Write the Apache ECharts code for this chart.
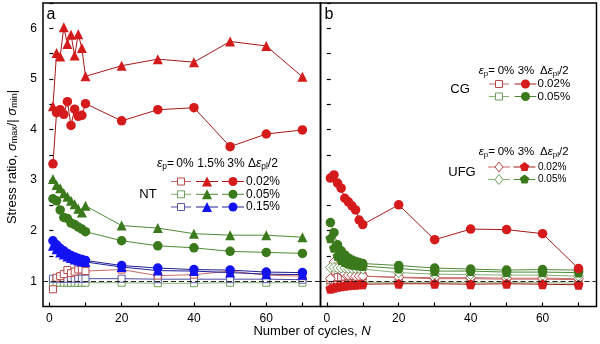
<!DOCTYPE html>
<html><head><meta charset="utf-8">
<script src="https://cdn.jsdelivr.net/npm/echarts@6/dist/echarts.min.js"></script>
<style>html,body{margin:0;padding:0;background:#fff}#c{width:600px;height:344px}</style>
</head><body><div id="c"></div>
<script>
// ---- data ----
const cycles = [1,2,3,4,5,6,7,8,9,10,20,30,40,50,60,70];
const xTickValues = [0,10,20,30,40,50,60,70];
const xLabelValues = [0,20,40,60];
const yLabelValues = [1,2,3,4,5,6];

// Panel a: NT
const nt0_002 = [0.84,1.07,1.10,1.14,1.22,1.16,1.19,1.23,1.23,1.20,1.23,1.11,1.13,1.20,1.12,1.10];
const nt0_005 = [0.95,0.97,0.97,0.97,0.97,0.97,0.97,0.97,0.97,0.97,0.97,0.96,0.96,0.97,0.97,0.97];
const nt0_015 = [1.05,1.05,1.05,1.05,1.05,1.05,1.05,1.05,1.05,1.05,1.05,1.04,1.04,1.04,1.04,1.03];
const nt15_002 = [4.46,5.51,5.44,6.02,5.69,5.87,5.46,5.88,5.61,5.05,5.26,5.39,5.33,5.74,5.65,5.04];
const nt15_005 = [3.02,2.90,2.84,2.74,2.67,2.59,2.52,2.43,2.36,2.49,2.10,2.05,1.94,1.91,1.91,1.87];
const nt15_015 = [1.70,1.63,1.57,1.53,1.49,1.46,1.43,1.41,1.39,1.38,1.28,1.21,1.20,1.17,1.14,1.13];
const nt3_002 = [3.32,4.33,4.39,4.30,4.55,4.08,4.40,4.26,4.28,4.51,4.17,4.39,4.43,3.66,3.91,3.99];
const nt3_005 = [2.63,2.59,2.41,2.26,2.24,2.15,2.12,2.07,2.03,1.98,1.80,1.70,1.66,1.59,1.57,1.55];
const nt3_015 = [1.80,1.72,1.65,1.60,1.55,1.51,1.48,1.45,1.43,1.41,1.31,1.26,1.23,1.22,1.18,1.17];

// Panel b: CG and UFG
const cg0_002 = [1.02,1.06,1.08,1.08,1.09,1.10,1.10,1.10,1.10,1.10,1.07,1.05,1.05,1.04,1.04,1.03];
const cg0_005 = [0.93,0.94,0.95,0.95,0.96,0.96,0.96,0.97,0.97,0.97,0.97,0.97,0.97,0.97,0.97,0.96];
const cg3_002 = [3.04,3.10,2.94,2.84,2.64,2.57,2.49,2.41,2.21,2.12,2.51,1.82,2.03,2.02,1.94,1.25];
const cg3_005 = [2.16,1.96,1.72,1.60,1.52,1.46,1.42,1.39,1.37,1.35,1.31,1.26,1.24,1.22,1.23,1.22];
const ufg0_002 = [1.05,1.38,1.30,1.20,1.15,1.12,1.12,1.10,1.10,1.10,1.08,1.07,1.07,1.06,1.06,1.05];
const ufg0_005 = [1.27,1.27,1.26,1.26,1.26,1.25,1.25,1.25,1.25,1.24,1.17,1.14,1.13,1.12,1.12,1.10];
const ufg3_002 = [0.85,0.87,0.89,0.90,0.91,0.92,0.93,0.93,0.94,0.94,0.95,0.95,0.94,0.95,0.94,0.93];
const ufg3_005 = [1.85,1.66,1.50,1.42,1.38,1.35,1.33,1.32,1.31,1.30,1.25,1.20,1.20,1.18,1.18,1.17];

// ---- styles ----
const FONT = 'Liberation Sans, Arial, sans-serif';
const RED = '#d41a1a', RED_LINE = '#a31818', RED_SQ = '#b84848', RED_SQ_LINE = '#c86a6a';
const GREEN = '#3b7a1c', GREEN_LINE = '#4f8c36', GREEN_SQ = '#6e9e5e', GREEN_SQ_LINE = '#84b072';
const BLUE = '#1212f2', BLUE_LINE = '#1e1e96', BLUE_SQ = '#5a5aa8', BLUE_SQ_LINE = '#4a4aa0';
const PENT = 'path://M0,-1L0.951,-0.309L0.588,0.809L-0.588,0.809L-0.951,-0.309Z';

function mk(arr, g, symbol, size, fill, border, lineColor, z) {
  return {
    type: 'line', xAxisIndex: g, yAxisIndex: g,
    data: cycles.map((x, i) => [x, arr[i]]),
    symbol: symbol, symbolSize: size, showSymbol: true,
    itemStyle: { color: fill, borderColor: border, borderWidth: fill === '#fff' ? 1 : 0 },
    lineStyle: { color: lineColor, width: 1 },
    emphasis: { disabled: true }, animation: false, z: z || 2
  };
}

const series = [
  mk(nt0_005, 0, 'rect', 7, '#fff', GREEN_SQ, GREEN_SQ_LINE),
  mk(nt0_015, 0, 'rect', 7, '#fff', BLUE_SQ, BLUE_SQ_LINE),
  mk(nt0_002, 0, 'rect', 7, '#fff', RED_SQ, RED_SQ_LINE),
  mk(nt15_002, 0, 'triangle', 10, RED, RED, RED_LINE, 3),
  mk(nt15_005, 0, 'triangle', 10, GREEN, GREEN, GREEN_LINE, 3),
  mk(nt15_015, 0, 'triangle', 10, BLUE, BLUE, BLUE_LINE, 3),
  mk(nt3_002, 0, 'circle', 9.5, RED, RED, RED_LINE, 4),
  mk(nt3_005, 0, 'circle', 9.5, GREEN, GREEN, GREEN_LINE, 4),
  mk(nt3_015, 0, 'circle', 9.5, BLUE, BLUE, BLUE_LINE, 4),
  mk(cg0_005, 1, 'rect', 7, '#fff', GREEN_SQ, GREEN_SQ_LINE),
  mk(cg0_002, 1, 'rect', 7, '#fff', RED_SQ, RED_SQ_LINE),
  mk(ufg0_002, 1, 'diamond', 10, '#fff', RED_SQ, RED_SQ_LINE, 3),
  mk(ufg0_005, 1, 'diamond', 10, '#fff', GREEN_SQ, GREEN_SQ_LINE, 3),
  mk(ufg3_002, 1, PENT, 10, RED, RED, RED_LINE, 4),
  mk(ufg3_005, 1, PENT, 10, GREEN, GREEN, GREEN_LINE, 4),
  mk(cg3_005, 1, 'circle', 9.5, GREEN, GREEN, GREEN_LINE, 5),
  mk(cg3_002, 1, 'circle', 9.5, RED, RED, RED_LINE, 5)
];
// dashed reference line at 1 in both panels
[0, 1].forEach(g => series.push({
  type: 'line', xAxisIndex: g, yAxisIndex: g, data: [], silent: true, z: 6,
  markLine: { symbol: 'none', silent: true, animation: false, label: { show: false },
    lineStyle: { color: '#222', type: [5, 3], width: 1 }, data: [{ yAxis: 1 }] }
}));

function xAx(g) {
  return { type: 'value', gridIndex: g, min: -1.75, max: 75,
    axisLine: { show: false }, splitLine: { show: false },
    axisTick: { show: true, inside: true, length: 4, customValues: xTickValues, lineStyle: { color: '#000', width: 1.2 } },
    axisLabel: { show: true, customValues: xLabelValues, margin: 6, color: '#000', fontSize: 12, fontFamily: FONT } };
}
function yAx(g, labels) {
  return { type: 'value', gridIndex: g, min: 0.5, max: 6.5, interval: 0.5,
    axisLine: { show: false }, splitLine: { show: false },
    axisTick: { show: true, inside: true, length: 4, lineStyle: { color: '#000', width: 1.2 } },
    axisLabel: { show: labels, margin: 6, color: '#000', fontSize: 12, fontFamily: FONT,
      formatter: v => (yLabelValues.indexOf(v) >= 0 ? String(v) : '') } };
}

// legend helpers (graphic)
const G = [];
function txt(x, y, text, size, align, extra) {
  G.push(Object.assign({ type: 'text', x: x, y: y, z: 20,
    style: { text: text, fill: '#000', font: size + 'px ' + FONT, textAlign: align || 'left', textVerticalAlign: 'middle' } }, extra || {}));
}
function richTxt(x, y, text, size, align) {
  G.push({ type: 'text', x: x, y: y, z: 20,
    style: { text: text, fill: '#000', fontSize: size, fontFamily: FONT, textAlign: align || 'left', textVerticalAlign: 'middle',
      rich: { i: { fontStyle: 'italic', fontSize: size, fontFamily: FONT },
              s: { fontSize: size * 0.7, fontFamily: FONT, padding: [size * 0.45, 0, 0, 0] },
              n: { fontSize: size, fontFamily: FONT } } } });
}
function key(cx, cy, half, shape, fill, stroke, lineColor, sz) {
  G.push({ type: 'line', z: 20, shape: { x1: cx - half, y1: cy, x2: cx + half, y2: cy }, style: { stroke: lineColor, lineWidth: 1 } });
  const r = sz / 2;
  const st = { fill: fill, stroke: stroke, lineWidth: fill === '#fff' ? 1 : 0 };
  if (shape === 'rect') G.push({ type: 'rect', z: 21, shape: { x: cx - r, y: cy - r, width: sz, height: sz }, style: st });
  else if (shape === 'circle') G.push({ type: 'circle', z: 21, shape: { cx: cx, cy: cy, r: r }, style: st });
  else if (shape === 'triangle') G.push({ type: 'polygon', z: 21, shape: { points: [[cx, cy - r], [cx + r, cy + r], [cx - r, cy + r]] }, style: st });
  else if (shape === 'diamond') G.push({ type: 'polygon', z: 21, shape: { points: [[cx, cy - r], [cx + r * 0.8, cy], [cx, cy + r], [cx - r * 0.8, cy]] }, style: st });
  else if (shape === 'pent') {
    const pts = []; for (let k = 0; k < 5; k++) { const a = -Math.PI / 2 + k * 2 * Math.PI / 5; pts.push([cx + r * Math.cos(a), cy + r * Math.sin(a)]); }
    G.push({ type: 'polygon', z: 21, shape: { points: pts }, style: st });
  }
}

// Panel labels
txt(51, 15, 'a', 16, 'center');
txt(329, 15, 'b', 16, 'center');

// NT legend
richTxt(174, 164, '{i|ε}{s|p}{n|=}', 12, 'right');
txt(185, 164, '0%', 12, 'center');
txt(211, 164, '1.5%', 12, 'center');
txt(236, 164, '3%', 12, 'center');
richTxt(248, 164, '{n|Δ}{i|ε}{s|pl}{n|/2}', 12, 'left');
txt(148, 194, 'NT', 13, 'center');
const ntRows = [[181.5, RED, RED_LINE, RED_SQ, RED_SQ_LINE, '0.02%'], [194.3, GREEN, GREEN_LINE, GREEN_SQ, GREEN_SQ_LINE, '0.05%'], [207, BLUE, BLUE_LINE, BLUE_SQ, BLUE_SQ_LINE, '0.15%']];
ntRows.forEach(r => {
  key(181, r[0], 10, 'rect', '#fff', r[3], r[4], 7);
  key(207, r[0], 11, 'triangle', r[1], r[1], r[2], 10);
  key(233, r[0], 11, 'circle', r[1], r[1], r[2], 9);
  txt(246, r[0], r[5], 12, 'left');
});

// CG legend
richTxt(495, 71, '{i|ε}{s|p}{n|=}', 11.5, 'right');
txt(506, 71, '0%', 11.5, 'center');
txt(526, 71, '3%', 11.5, 'center');
richTxt(540, 71, '{n|Δ}{i|ε}{s|pl}{n|/2}', 11.5, 'left');
txt(460, 89, 'CG', 13, 'center');
key(499, 84, 10, 'rect', '#fff', RED_SQ, RED_SQ_LINE, 7);
key(525.5, 84, 11, 'circle', RED, RED, RED_LINE, 9);
txt(537.5, 84, '0.02%', 11.5, 'left');
key(499, 96.5, 10, 'rect', '#fff', GREEN_SQ, GREEN_SQ_LINE, 7);
key(525.5, 96.5, 11, 'circle', GREEN, GREEN, GREEN_LINE, 9);
txt(537.5, 96.5, '0.05%', 11.5, 'left');

// UFG legend
richTxt(495, 152, '{i|ε}{s|p}{n|=}', 11.5, 'right');
txt(506, 152, '0%', 11.5, 'center');
txt(526, 152, '3%', 11.5, 'center');
richTxt(540, 152, '{n|Δ}{i|ε}{s|pl}{n|/2}', 11.5, 'left');
txt(462, 172.5, 'UFG', 13, 'center');
key(499, 167, 11, 'diamond', '#fff', RED_SQ, RED_SQ_LINE, 10);
key(524.5, 167, 11, 'pent', RED, RED, RED_LINE, 10);
txt(538, 167, '0.02%', 10, 'left');
key(499, 179.5, 11, 'diamond', '#fff', GREEN_SQ, GREEN_SQ_LINE, 10);
key(524.5, 179.5, 11, 'pent', GREEN, GREEN, GREEN_LINE, 10);
txt(538, 179.5, '0.05%', 10, 'left');

// Axis titles
G.push({ type: 'text', x: 12, y: 157, rotation: Math.PI / 2, z: 20,
  style: { text: '{n|Stress ratio, }{i|σ}{s|max}{n|/| }{i|σ}{s|min}{n||}', fill: '#000', textAlign: 'center', textVerticalAlign: 'middle',
    rich: { n: { fontSize: 13, fontFamily: FONT }, i: { fontSize: 13, fontStyle: 'italic', fontFamily: FONT },
            s: { fontSize: 9, fontFamily: FONT, padding: [6, 0, 0, 0] } } } });
G.push({ type: 'text', x: 312, y: 331, z: 20,
  style: { text: '{n|Number of cycles, }{i|N}', fill: '#000', textAlign: 'center', textVerticalAlign: 'middle',
    rich: { n: { fontSize: 13, fontFamily: FONT }, i: { fontSize: 13, fontStyle: 'italic', fontFamily: FONT } } } });

const chart = echarts.init(document.getElementById('c'), null, { renderer: 'canvas' });
chart.setOption({
  animation: false,
  backgroundColor: '#fff',
  grid: [
    { left: 43, top: 3, width: 277.5, height: 303.5, show: true, borderColor: '#000', borderWidth: 1.5, backgroundColor: 'transparent', containLabel: false },
    { left: 320.5, top: 3, width: 276, height: 303.5, show: true, borderColor: '#000', borderWidth: 1.5, backgroundColor: 'transparent', containLabel: false }
  ],
  xAxis: [xAx(0), xAx(1)],
  yAxis: [yAx(0, true), yAx(1, false)],
  series: series,
  graphic: G
});
</script>
</body></html>
